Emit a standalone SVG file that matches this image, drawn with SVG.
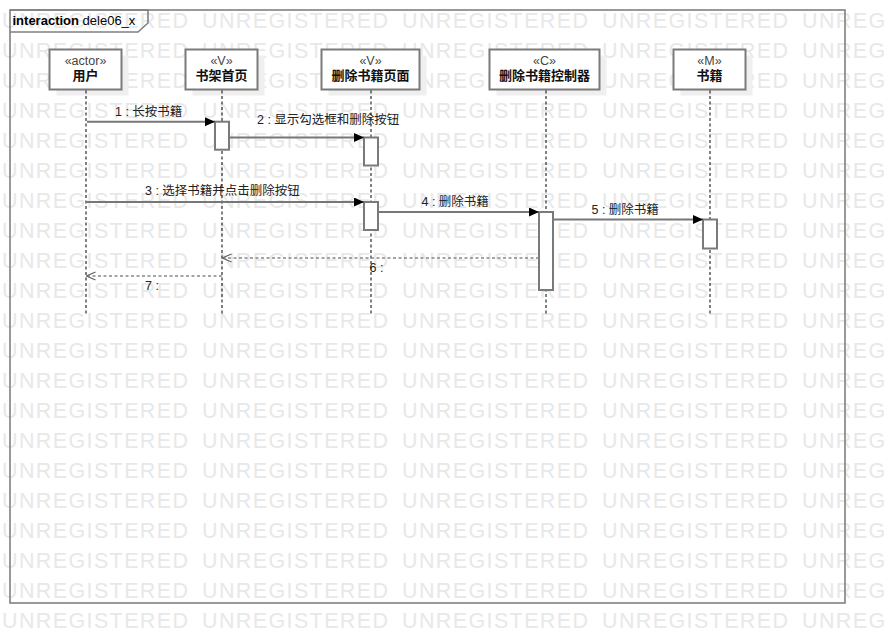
<svg xmlns="http://www.w3.org/2000/svg" xmlns:xlink="http://www.w3.org/1999/xlink" width="885" height="644" viewBox="0 0 885 644">
<style>
  text { font-family: "Liberation Sans", "Noto Sans CJK SC", sans-serif; }
  .wm { font-size: 21.5px; fill: #e8e8e8; }
  .frame { fill: none; stroke: #808080; stroke-width: 1.6; }
  .shadow { fill: #efefef; stroke: none; }
  .box { fill: #ffffff; stroke: #7a7a7a; stroke-width: 2; }
  .stereo { font-size: 12.5px; fill: #444; text-anchor: middle; }
  .name { font-size: 13px; font-weight: bold; fill: #111; text-anchor: middle; }
  .life { stroke: #000; stroke-width: 1; stroke-dasharray: 3 2.5; fill: none; }
  .act { fill: #ffffff; stroke: #7a7a7a; stroke-width: 2; }
  .msg { stroke: #777; stroke-width: 2; fill: none; }
  .ret { stroke: #888; stroke-width: 1.7; stroke-dasharray: 3 2.5; fill: none; }
  .lbl { font-size: 12.5px; fill: #222; }
  .title { font-size: 13px; fill: #000; }
</style>
<defs>
  <marker id="arrFill" viewBox="0 0 10 9" refX="10" refY="4.5" markerWidth="10" markerHeight="9" markerUnits="userSpaceOnUse" orient="auto">
    <path d="M0,0 L10,4.5 L0,9 Z" fill="#000"/>
  </marker>
  <marker id="arrOpen" viewBox="0 0 11 10" refX="10" refY="5" markerWidth="11" markerHeight="10" markerUnits="userSpaceOnUse" orient="auto">
    <path d="M1,1 L10,5 L1,9" fill="none" stroke="#666" stroke-width="1.3"/>
  </marker>
  <g id="wmrow" class="wm">
    <text x="2" y="0" textLength="186" lengthAdjust="spacing">UNREGISTERED</text>
    <text x="202" y="0" textLength="186" lengthAdjust="spacing">UNREGISTERED</text>
    <text x="402" y="0" textLength="186" lengthAdjust="spacing">UNREGISTERED</text>
    <text x="602" y="0" textLength="186" lengthAdjust="spacing">UNREGISTERED</text>
    <text x="802" y="0" textLength="186" lengthAdjust="spacing">UNREGISTERED</text>
  </g>
</defs>
<rect x="0" y="0" width="885" height="644" fill="#ffffff"/>
<g id="watermark">
  <use xlink:href="#wmrow" href="#wmrow" y="28"/>
  <use xlink:href="#wmrow" href="#wmrow" y="58"/>
  <use xlink:href="#wmrow" href="#wmrow" y="88"/>
  <use xlink:href="#wmrow" href="#wmrow" y="118"/>
  <use xlink:href="#wmrow" href="#wmrow" y="148"/>
  <use xlink:href="#wmrow" href="#wmrow" y="178"/>
  <use xlink:href="#wmrow" href="#wmrow" y="208"/>
  <use xlink:href="#wmrow" href="#wmrow" y="238"/>
  <use xlink:href="#wmrow" href="#wmrow" y="268"/>
  <use xlink:href="#wmrow" href="#wmrow" y="298"/>
  <use xlink:href="#wmrow" href="#wmrow" y="328"/>
  <use xlink:href="#wmrow" href="#wmrow" y="358"/>
  <use xlink:href="#wmrow" href="#wmrow" y="388"/>
  <use xlink:href="#wmrow" href="#wmrow" y="418"/>
  <use xlink:href="#wmrow" href="#wmrow" y="448"/>
  <use xlink:href="#wmrow" href="#wmrow" y="478"/>
  <use xlink:href="#wmrow" href="#wmrow" y="508"/>
  <use xlink:href="#wmrow" href="#wmrow" y="538"/>
  <use xlink:href="#wmrow" href="#wmrow" y="568"/>
  <use xlink:href="#wmrow" href="#wmrow" y="598"/>
  <use xlink:href="#wmrow" href="#wmrow" y="628"/>
</g>
<g id="frame">
  <rect class="frame" x="10" y="10" width="835" height="593"/>
  <path class="frame" d="M10,10 H148 V23 L138,32 H10"/>
  <text class="title" x="12.5" y="25"><tspan font-weight="bold">interaction</tspan> dele06_x</text>
</g>
<g id="node-user">
  <rect class="shadow" x="56.5" y="55.5" width="72" height="40"/>
  <rect class="box" x="49.5" y="49.5" width="72" height="40"/>
  <text class="stereo" x="85.5" y="65">«actor»</text>
  <text class="name" x="85.5" y="80">用户</text>
  <line class="life" x1="86" y1="90.5" x2="86" y2="314"/>
</g>
<g id="node-bookshelf">
  <rect class="shadow" x="192.5" y="55.5" width="72" height="40"/>
  <rect class="box" x="185.5" y="49.5" width="72" height="40"/>
  <text class="stereo" x="221.5" y="65">«V»</text>
  <text class="name" x="221.5" y="80">书架首页</text>
  <line class="life" x1="222" y1="90.5" x2="222" y2="314"/>
  <rect class="act" x="215" y="121.7" width="14" height="28"/>
</g>
<g id="node-delpage">
  <rect class="shadow" x="328.5" y="55.5" width="98" height="40"/>
  <rect class="box" x="321.5" y="49.5" width="98" height="40"/>
  <text class="stereo" x="370.5" y="65">«V»</text>
  <text class="name" x="370.5" y="80">删除书籍页面</text>
  <line class="life" x1="371" y1="90.5" x2="371" y2="314"/>
  <rect class="act" x="364" y="137.5" width="14" height="28"/>
  <rect class="act" x="364" y="202" width="14" height="28"/>
</g>
<g id="node-delctrl">
  <rect class="shadow" x="496.5" y="55.5" width="110" height="40"/>
  <rect class="box" x="489.5" y="49.5" width="110" height="40"/>
  <text class="stereo" x="544.5" y="65">«C»</text>
  <text class="name" x="544.5" y="80">删除书籍控制器</text>
  <line class="life" x1="546" y1="90.5" x2="546" y2="314"/>
  <rect class="act" x="539" y="212" width="14" height="78"/>
</g>
<g id="node-book">
  <rect class="shadow" x="680.5" y="55.5" width="72" height="40"/>
  <rect class="box" x="673.5" y="49.5" width="72" height="40"/>
  <text class="stereo" x="709.5" y="65">«M»</text>
  <text class="name" x="709.5" y="80">书籍</text>
  <line class="life" x1="710" y1="90.5" x2="710" y2="314"/>
  <rect class="act" x="703" y="219.5" width="14" height="29"/>
</g>
<g id="connectors">
  <line class="msg" x1="87" y1="121.7" x2="215" y2="121.7" marker-end="url(#arrFill)"/>
  <text class="lbl" x="115" y="116">1 : 长按书籍</text>
  <line class="msg" x1="229" y1="137.5" x2="364" y2="137.5" marker-end="url(#arrFill)"/>
  <text class="lbl" x="257" y="123.5">2 : 显示勾选框和删除按钮</text>
  <line class="msg" x1="87" y1="202" x2="364" y2="202" marker-end="url(#arrFill)"/>
  <text class="lbl" x="145" y="194.5">3 : 选择书籍并点击删除按钮</text>
  <line class="msg" x1="378" y1="212" x2="539" y2="212" marker-end="url(#arrFill)"/>
  <text class="lbl" x="421.5" y="206">4 : 删除书籍</text>
  <line class="msg" x1="553" y1="219.5" x2="703" y2="219.5" marker-end="url(#arrFill)"/>
  <text class="lbl" x="591.5" y="214">5 : 删除书籍</text>
  <line class="ret" x1="539" y1="258" x2="222.5" y2="258" marker-end="url(#arrOpen)"/>
  <text class="lbl" x="369.5" y="271.5">6 :</text>
  <line class="ret" x1="222" y1="276" x2="86.5" y2="276" marker-end="url(#arrOpen)"/>
  <text class="lbl" x="145" y="290">7 :</text>
</g>
</svg>
